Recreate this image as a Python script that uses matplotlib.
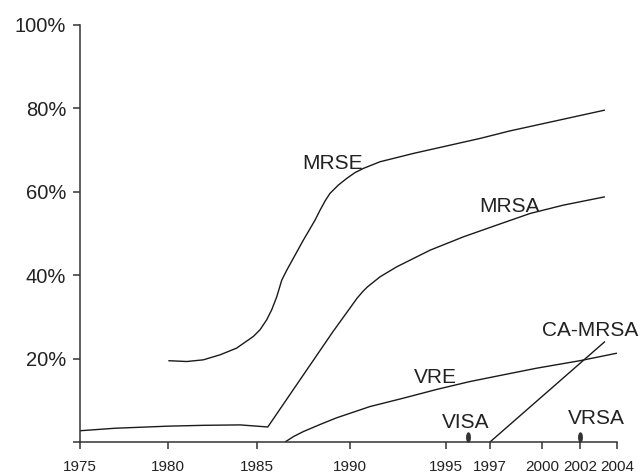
import numpy as np
import matplotlib
matplotlib.use("Agg")
import matplotlib.pyplot as plt
from matplotlib.path import Path
from matplotlib.transforms import Affine2D
from matplotlib.markers import MarkerStyle

plt.rcParams['font.family'] = ['Liberation Sans', 'DejaVu Sans']

# ---- data (year, percent) ----
mrse_years = [1980.02, 1981.05, 1981.98, 1982.92, 1983.85, 1984.79, 1985.16, 1985.52,
              1985.79, 1986.06, 1986.33, 1986.60, 1987.49, 1988.12, 1988.39, 1988.66,
              1988.92, 1989.37, 1989.82, 1990.26, 1990.69, 1991.56, 1993.30, 1996.55,
              1998.15, 2003.35]
mrse_pct = [19.5, 19.3, 19.7, 20.9, 22.5, 25.3, 26.9, 29.3,
            31.7, 34.8, 38.8, 41.2, 48.4, 53.2, 55.6, 57.8,
            59.6, 61.6, 63.2, 64.6, 65.6, 67.2, 69.2, 72.8,
            74.6, 79.6]

mrsa_years = [1975.0, 1977.0, 1980.0, 1982.0, 1984.05, 1985.58, 1987.31, 1989.09,
              1990.09, 1990.37, 1990.69, 1990.91, 1991.56, 1992.43, 1994.17, 1995.79,
              1997.38, 1999.31, 2001.12, 2003.35]
mrsa_pct = [2.7, 3.3, 3.8, 4.0, 4.1, 3.6, 14.9, 26.5,
            32.7, 34.5, 36.2, 37.2, 39.6, 42.0, 46.0, 49.2,
            52.0, 54.8, 56.8, 58.8]

vre_years = [1986.51, 1986.96, 1987.49, 1988.39, 1989.28, 1991.04, 1992.77, 1994.51,
             1996.09, 1997.76, 1999.69, 2002.0, 2004.0]
vre_pct = [0.0, 1.3, 2.5, 4.2, 5.8, 8.5, 10.5, 12.6,
           14.5, 16.1, 17.7, 19.5, 21.3]

ca_mrsa_years = [1997.0, 2003.35]
ca_mrsa_pct = [0.0, 24.1]

event_years = [1996.0, 2002.0]   # VISA, VRSA
event_pct = [1.3, 1.3]

x_tick_years = [1975, 1980, 1985, 1990, 1995, 1997, 2000, 2002, 2004]
y_ticks = [0, 20, 40, 60, 80, 100]
y_tick_labels = ['', '20%', '40%', '60%', '80%', '100%']

# labels: (text, year, pct)
label_texts = ['MRSE', 'MRSA', 'VRE', 'CA-MRSA', 'VISA', 'VRSA']
label_years = [1989.07, 1998.15, 1994.43, 2002.53, 1995.9, 2002.9]
label_pct = [65.5, 55.2, 14.2, 25.5, 3.3, 4.3]

# axis layout: the original axis is not uniformly spaced
tick_pos_px = np.array([80, 168, 257, 350, 446, 490, 542, 580, 617], dtype=float)
tick_years_arr = np.array(x_tick_years, dtype=float)

def fwd(x):
    x = np.asarray(x, dtype=float)
    return np.interp(x, tick_years_arr, tick_pos_px) \
        + np.where(x < 1975, (x - 1975) * 17.6, 0) \
        + np.where(x > 2004, (x - 2004) * 18.5, 0)

def inv(p):
    p = np.asarray(p, dtype=float)
    return np.interp(p, tick_pos_px, tick_years_arr) \
        + np.where(p < 80, (p - 80) / 17.6, 0) \
        + np.where(p > 617, (p - 617) / 18.5, 0)

fig = plt.figure(figsize=(6.43, 4.74), dpi=100)
ax = fig.add_axes([80 / 643, (474 - 442) / 474, (617 - 80) / 643, (442 - 25) / 474])
ax.set_xscale('function', functions=(fwd, inv))
ax.set_xlim(1975, 2004)
ax.set_ylim(0, 100)

lc = '#1a1a1a'
lw = 1.0
for xs, ys in [(mrse_years, mrse_pct), (mrsa_years, mrsa_pct),
               (vre_years, vre_pct), (ca_mrsa_years, ca_mrsa_pct)]:
    ax.plot(xs, ys, color=lc, lw=lw, solid_capstyle='butt', solid_joinstyle='round')

ell = Path.unit_circle().transformed(Affine2D().scale(0.38, 1.0))
ax.plot(event_years, event_pct, linestyle='none', marker=MarkerStyle(ell),
        ms=6.5, color='#333333', mec='#333333', clip_on=False)

for t, xx, yy in zip(label_texts, label_years, label_pct):
    ax.text(xx, yy, t, ha='center', va='baseline', fontsize=15, color='#222222')

ax.set_xticks(x_tick_years)
ax.set_xticklabels([str(y) for y in x_tick_years], fontsize=11, color='#222222')
ax.set_yticks(y_ticks)
ax.set_yticklabels(y_tick_labels, fontsize=14.5, color='#222222')
ax.minorticks_off()

for s in ['top', 'right']:
    ax.spines[s].set_visible(False)
for s in ['left', 'bottom']:
    ax.spines[s].set_color('#333333')
    ax.spines[s].set_linewidth(1.1)
ax.tick_params(axis='both', direction='out', length=5, width=1.1, color='#333333')
ax.tick_params(axis='x', pad=8)
ax.tick_params(axis='y', pad=5)

fig.savefig('out.png', dpi=100)
